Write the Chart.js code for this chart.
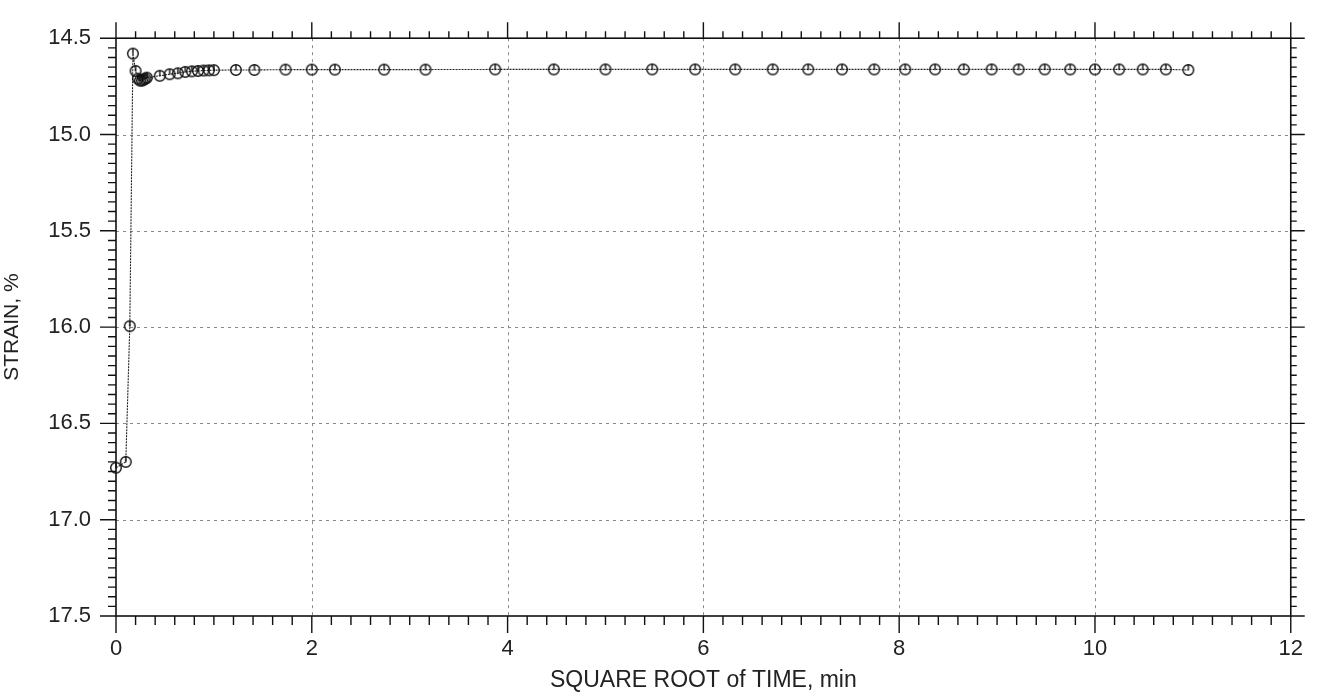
<!DOCTYPE html>
<html>
<head>
<meta charset="utf-8">
<script src="https://cdn.jsdelivr.net/npm/chart.js@4"></script>
<style>
  html, body { margin: 0; padding: 0; background: #fff; }
  #wrap { width: 1323px; height: 694px; position: relative; }
</style>
</head>
<body>
<div id="wrap"><canvas id="c" width="1323" height="694"></canvas></div>
<script>
// ---- data ----
const sqrtTime = [0, 0.1, 0.141, 0.173, 0.2, 0.224, 0.245, 0.265, 0.283, 0.3, 0.316,
  0.447, 0.548, 0.632, 0.707, 0.775, 0.837, 0.894, 0.949, 1.0,
  1.225, 1.414, 1.732, 2.0, 2.236, 2.739, 3.162,
  3.873, 4.472, 5.0, 5.477, 5.916, 6.325, 6.708, 7.071, 7.416, 7.746, 8.062, 8.367,
  8.660, 8.944, 9.220, 9.487, 9.747, 10.0, 10.247, 10.488, 10.724, 10.954];
const strain = [16.73, 16.70, 15.995, 14.58, 14.67, 14.71, 14.72, 14.72, 14.715, 14.71, 14.705,
  14.695, 14.687, 14.682, 14.675, 14.672, 14.67, 14.668, 14.667, 14.666,
  14.665, 14.665, 14.663, 14.663, 14.663, 14.663, 14.663,
  14.662, 14.662, 14.662, 14.662, 14.662, 14.662, 14.662, 14.662, 14.662, 14.662, 14.662, 14.662,
  14.662, 14.662, 14.662, 14.662, 14.662, 14.662, 14.662, 14.662, 14.662, 14.665];
const xMajorTicks = [0, 2, 4, 6, 8, 10, 12];
const xTickLabels = ['0', '2', '4', '6', '8', '10', '12'];
const yMajorTicks = [14.5, 15.0, 15.5, 16.0, 16.5, 17.0, 17.5];
const yTickLabels = ['14.5', '15.0', '15.5', '16.0', '16.5', '17.0', '17.5'];
const xMinorStep = 0.2;
const yMinorStep = 0.05;
const xTitle = 'SQUARE ROOT of TIME, min';
const yTitle = 'STRAIN, %';

// ---- marker: circle with a vertical stroke from top to centre ----
function makeMarker() {
  const s = 16, c = document.createElement('canvas');
  c.width = s; c.height = s;
  const g = c.getContext('2d');
  const r = 5.3;
  g.strokeStyle = '#111'; g.lineWidth = 1.4;
  g.beginPath(); g.arc(s / 2, s / 2, r, 0, Math.PI * 2); g.stroke();
  g.beginPath(); g.moveTo(s / 2, s / 2 - r); g.lineTo(s / 2, s / 2 + 0.5); g.stroke();
  return c;
}

const FONT = '"Liberation Sans", Arial, sans-serif';

const gridPlugin = {
  id: 'gridPlugin',
  beforeDatasetsDraw(chart) {
    const { ctx, chartArea: a, scales: { x, y } } = chart;
    ctx.save();
    ctx.strokeStyle = '#8a8a8a'; ctx.lineWidth = 1; ctx.setLineDash([3, 4]);
    xMajorTicks.forEach(v => {
      if (v === x.min || v === x.max) return;
      const px = Math.round(x.getPixelForValue(v)) + 0.5;
      ctx.beginPath(); ctx.moveTo(px, a.top); ctx.lineTo(px, a.bottom); ctx.stroke();
    });
    yMajorTicks.forEach(v => {
      if (v === y.min || v === y.max) return;
      const py = Math.round(y.getPixelForValue(v)) + 0.5;
      ctx.beginPath(); ctx.moveTo(a.left, py); ctx.lineTo(a.right, py); ctx.stroke();
    });
    ctx.restore();
  },
  afterDraw(chart) {
    const { ctx, chartArea: a, scales: { x, y } } = chart;
    ctx.save();
    ctx.strokeStyle = '#111'; ctx.setLineDash([]);
    ctx.lineWidth = 1.6;
    ctx.strokeRect(a.left, a.top, a.right - a.left, a.bottom - a.top);
    ctx.lineWidth = 1.4;
    const isMajor = (v, list) => list.some(m => Math.abs(m - v) < 1e-6);
    const nx = Math.round((x.max - x.min) / xMinorStep);
    for (let i = 0; i <= nx; i++) {
      const v = x.min + i * xMinorStep;
      const px = x.getPixelForValue(v);
      const maj = isMajor(v, xMajorTicks);
      ctx.beginPath();
      ctx.moveTo(px, a.bottom); ctx.lineTo(px, a.bottom + (maj ? 17 : 9));
      ctx.moveTo(px, a.top); ctx.lineTo(px, a.top - (maj ? 16 : 7));
      ctx.stroke();
    }
    const ny = Math.round((y.max - y.min) / yMinorStep);
    for (let i = 0; i <= ny; i++) {
      const v = y.min + i * yMinorStep;
      const py = y.getPixelForValue(v);
      const maj = isMajor(v, yMajorTicks);
      ctx.beginPath();
      ctx.moveTo(a.left, py); ctx.lineTo(a.left - (maj ? 16 : 8), py);
      ctx.moveTo(a.right, py); ctx.lineTo(a.right + (maj ? 14 : 6), py);
      ctx.stroke();
    }
    ctx.restore();
  }
};

new Chart(document.getElementById('c'), {
  type: 'scatter',
  data: {
    datasets: [{
      data: sqrtTime.map((t, i) => ({ x: t, y: strain[i] })),
      showLine: true,
      clip: false,
      borderColor: '#222',
      borderWidth: 1.1,
      borderDash: [2, 1],
      pointStyle: makeMarker(),
      pointRadius: 6,
      pointHoverRadius: 6,
      backgroundColor: 'transparent'
    }]
  },
  options: {
    responsive: false,
    animation: false,
    events: [],
    layout: { padding: { left: 0, right: 24, top: 26, bottom: 0 } },
    plugins: { legend: { display: false }, tooltip: { enabled: false } },
    scales: {
      x: {
        type: 'linear', min: 0, max: 12,
        afterBuildTicks: s => { s.ticks = xMajorTicks.map(v => ({ value: v })); },
        afterFit: s => { s.height = 78; },
        ticks: {
          padding: 20, color: '#222', maxRotation: 0,
          font: { family: FONT, size: 22 },
          callback: (v) => xTickLabels[xMajorTicks.indexOf(v)]
        },
        grid: { display: false, drawTicks: false },
        border: { display: false },
        title: {
          display: true, text: xTitle, color: '#222',
          font: { family: FONT, size: 23 },
          padding: { top: 0, bottom: 0 }
        }
      },
      y: {
        type: 'linear', min: 14.5, max: 17.5, reverse: true,
        afterBuildTicks: s => { s.ticks = yMajorTicks.map(v => ({ value: v })); },
        afterFit: s => { s.width = 116; },
        ticks: {
          padding: 25, color: '#222',
          font: { family: FONT, size: 22 },
          callback: (v) => yTickLabels[yMajorTicks.indexOf(v)]
        },
        grid: { display: false, drawTicks: false },
        border: { display: false },
        title: {
          display: true, text: yTitle, color: '#222',
          font: { family: FONT, size: 21 },
          padding: { top: 0, bottom: 0 }
        }
      }
    }
  },
  plugins: [gridPlugin]
});
</script>
</body>
</html>
